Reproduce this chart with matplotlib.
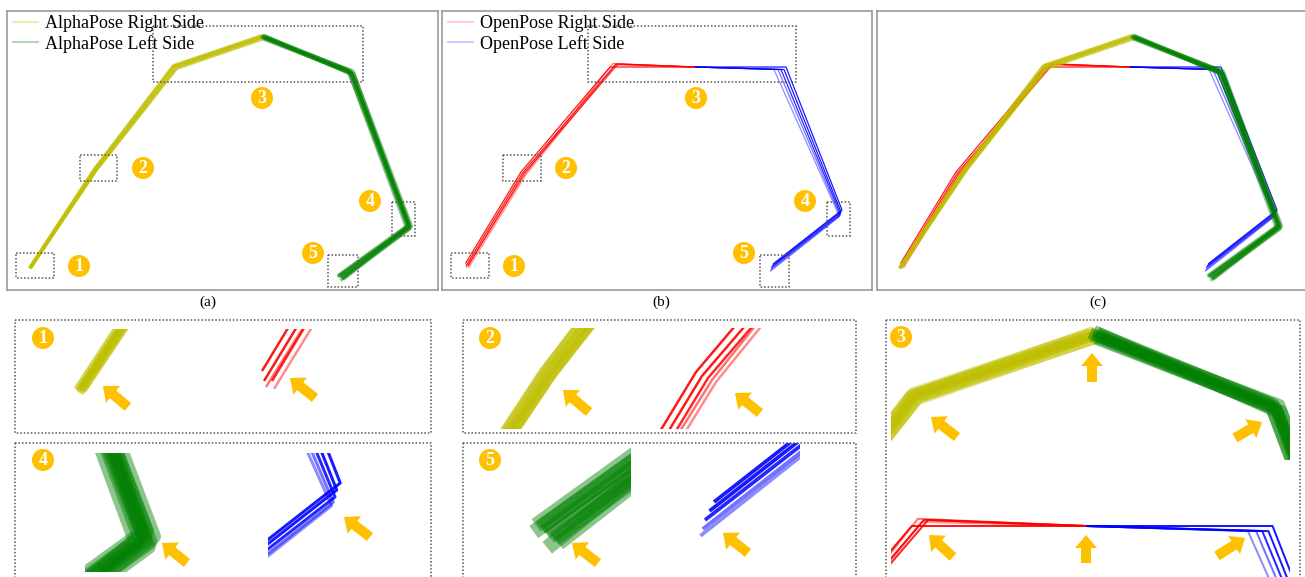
import matplotlib
matplotlib.use('Agg')
import matplotlib.pyplot as plt
from matplotlib.patches import Rectangle, Circle, FancyArrow
from matplotlib.lines import Line2D
import numpy as np

# ---------------- data (keypoints in image-pixel units of a 431x279 frame) -------------
# joint order: R wrist, R elbow, R shoulder, neck, L shoulder, L elbow, L wrist
joint_names = ["R wrist", "R elbow", "R shoulder", "neck", "L shoulder", "L elbow", "L wrist"]

alpha_base_x = [23, 88, 168, 256, 344, 402, 333]
alpha_base_y = [257, 159, 56, 26, 61, 216, 266]
# per-frame deviations of AlphaPose keypoints (8 frames x 7 joints)
alpha_dx = [
    [0.0, 0.0, 0.0, 0.0, 0.0, 0.0, 0.0],
    [0.5, 1.0, 1.5, -1.5, 1.0, 1.5, 1.0],
    [-0.5, -1.0, -1.5, 1.5, -1.0, -1.5, -1.0],
    [0.3, 0.5, 1.0, 2.5, 2.0, 1.0, 2.0],
    [-0.3, -0.5, -1.0, -2.5, -2.0, -1.0, -2.0],
    [0.8, 1.5, 2.5, 0.5, 3.0, 2.5, 3.0],
    [-0.8, -1.5, -2.5, -0.5, -3.0, -2.5, -2.5],
    [0.0, 0.3, 0.5, 1.0, 1.5, 0.5, 0.5],
]
alpha_dy = [
    [0.0, 0.0, 0.0, 0.0, 0.0, 0.0, 0.0],
    [0.3, 0.5, 1.0, 0.5, 1.5, 0.5, 1.0],
    [-0.3, -0.5, -1.0, -0.5, -1.5, -0.5, -1.0],
    [-0.5, 1.0, 2.0, 1.0, -1.0, 2.0, 1.5],
    [0.5, -1.0, -2.0, -1.0, 1.0, -2.0, -1.5],
    [0.0, 0.0, 0.5, 2.0, 2.0, -1.0, 2.5],
    [0.0, 0.0, -0.5, -2.0, -2.0, 1.0, 0.0],
    [0.8, 1.5, -1.5, -1.5, 3.0, -2.5, 3.5],
]

# OpenPose keypoints per frame (5 frames x 7 joints)
open_x = [
    [23.5, 79.0, 168.0, 253.0, 344.0, 400.0, 331.0],
    [24.0, 80.5, 174.0, 253.0, 342.0, 399.0, 330.0],
    [26.0, 82.0, 176.0, 253.0, 339.0, 398.5, 329.0],
    [24.5, 83.0, 171.0, 253.0, 336.0, 398.0, 328.5],
    [26.5, 84.0, 173.0, 253.0, 332.0, 397.5, 328.0],
]
open_y = [
    [252.5, 161.0, 56.0, 56.0, 56.0, 199.0, 253.0],
    [255.0, 162.0, 53.0, 56.0, 58.5, 201.0, 255.0],
    [255.0, 162.5, 53.0, 56.0, 58.5, 203.0, 257.0],
    [256.5, 163.0, 52.5, 56.0, 58.5, 204.5, 259.0],
    [257.0, 163.5, 54.0, 56.0, 58.5, 205.5, 260.5],
]
open_frame_alpha = [0.9, 0.9, 0.85, 0.55, 0.45]

legend_alpha = ["AlphaPose Right Side", "AlphaPose Left Side"]
legend_open = ["OpenPose Right Side", "OpenPose Left Side"]
captions = ["(a)", "(b)", "(c)"]

C_Y, C_G, C_R, C_B = "#BFBF00", "#008000", "#FF0000", "#0000FF"
ORANGE = "#FFC000"

# ---------------- figure ----------------
W, H = 1305, 577
plt.rcParams['font.family'] = ['Liberation Serif', 'DejaVu Serif']
fig = plt.figure(figsize=(W / 100, H / 100), dpi=100)


def rect_px(l, t, r, b):
    return [l / W, 1 - b / H, (r - l) / W, (b - t) / H]


alpha_frames = [(np.array(alpha_base_x) + np.array(dx), np.array(alpha_base_y) + np.array(dy))
                for dx, dy in zip(alpha_dx, alpha_dy)]
open_frames = [(np.array(x), np.array(y)) for x, y in zip(open_x, open_y)]

A_ALPHA = 0.45


def draw_alpha(ax, lw):
    for xs, ys in alpha_frames:
        ax.plot(xs[0:4], ys[0:4], color=C_Y, alpha=A_ALPHA, lw=lw, solid_capstyle='butt')
    for xs, ys in alpha_frames:
        ax.plot(xs[3:7], ys[3:7], color=C_G, alpha=A_ALPHA, lw=lw * 1.15, solid_capstyle='butt')


def draw_open(ax, lw):
    for (xs, ys), a in zip(open_frames, open_frame_alpha):
        ax.plot(xs[0:4], ys[0:4], color=C_R, alpha=a, lw=lw, solid_capstyle='butt')
        ax.plot(xs[3:7], ys[3:7], color=C_B, alpha=a, lw=lw, solid_capstyle='butt')


def style_panel(ax, width):
    ax.set_xlim(0, width)
    ax.set_ylim(279, 0)
    ax.set_xticks([])
    ax.set_yticks([])
    for s in ax.spines.values():
        s.set_color('#999999')
        s.set_linewidth(1.2)


LW_A, LW_O = 2.1, 0.9

axA = fig.add_axes(rect_px(7, 11, 438, 290))
style_panel(axA, 431)
draw_alpha(axA, LW_A)
hA = [Line2D([], [], color=C_Y, alpha=0.3, lw=1.5), Line2D([], [], color=C_G, alpha=0.3, lw=1.5)]
axA.legend(hA, legend_alpha, loc='upper left', bbox_to_anchor=(6 / 431, 1.0 - 4 / 279), frameon=False,
           fontsize=13, borderaxespad=0, borderpad=0, handlelength=1.4, handletextpad=0.35,
           labelspacing=0.15)

axB = fig.add_axes(rect_px(442, 11, 872, 290))
style_panel(axB, 430)
draw_open(axB, LW_O)
hB = [Line2D([], [], color=C_R, alpha=0.2, lw=1.5), Line2D([], [], color=C_B, alpha=0.2, lw=1.5)]
axB.legend(hB, legend_open, loc='upper left', bbox_to_anchor=(6 / 430, 1.0 - 4 / 279), frameon=False,
           fontsize=13, borderaxespad=0, borderpad=0, handlelength=1.4, handletextpad=0.4,
           labelspacing=0.15)

axC = fig.add_axes(rect_px(877, 11, 1307, 290))
style_panel(axC, 430)
draw_open(axC, LW_O)
draw_alpha(axC, LW_A)

for txt, x in zip(captions, [208, 661, 1098]):
    fig.text(x / W, 1 - 302 / H, txt, ha='center', va='center', fontsize=11)

# ---------------- zoomed insets ----------------
# (dataset, rect px (l,t,r,b), anchor data (x,y), anchor px (x,y), scale, lw factor)
ob = open_frames[2]
insets = [
    ('a', (24, 329, 200, 430), (alpha_base_x[0], alpha_base_y[0]), (80, 390), 4.0, 2.6),
    ('o', (190, 329, 360, 430), (ob[0][0], ob[1][0]), (272, 381), 4.0, 2.0),
    ('a', (480, 328, 620, 429), (alpha_base_x[1], alpha_base_y[1]), (548, 373), 4.0, 3.0),
    ('o', (650, 328, 800, 429), (ob[0][1], ob[1][1]), (708, 378), 4.0, 2.0),
    ('a', (85, 453, 180, 572), (alpha_base_x[5], alpha_base_y[5]), (145, 540), 3.5, 4.3),
    ('o', (268, 453, 380, 572), (ob[0][5], ob[1][5]), (335, 497), 3.5, 2.4),
    ('a', (500, 445, 631, 577), (alpha_base_x[6], alpha_base_y[6]), (545, 532), 4.5, 4.5),
    ('o', (660, 443, 800, 577), (ob[0][6], ob[1][6]), (705, 520), 4.5, 3.0),
    ('a', (891, 325, 1290, 460), (alpha_base_x[3], alpha_base_y[3]), (1095, 335), 2.05, 3.4),
    ('o', (891, 470, 1290, 577), (ob[0][3], ob[1][3]), (1086, 526), 2.05, 1.6),
]
for ds, (l, t, r, b), (dx0, dy0), (px0, py0), s, k in insets:
    ax_i = fig.add_axes(rect_px(l, t, r, b))
    ax_i.set_xlim(dx0 + (l - px0) / s, dx0 + (r - px0) / s)
    ax_i.set_ylim(dy0 + (b - py0) / s, dy0 + (t - py0) / s)
    ax_i.axis('off')
    if ds == 'a':
        draw_alpha(ax_i, LW_A * k)
    else:
        draw_open(ax_i, LW_O * k)

# ---------------- overlay: dotted boxes, badges, arrows ----------------
ov = fig.add_axes([0, 0, 1, 1], zorder=10)
ov.set_xlim(0, W)
ov.set_ylim(H, 0)
ov.axis('off')
ov.patch.set_alpha(0)

dotted = [
    (16, 253, 54, 278), (80, 155, 117, 181), (153, 26, 363, 82), (392, 202, 415, 236), (328, 255, 358, 287),
    (451, 253, 489, 278), (503, 155, 541, 181), (588, 26, 796, 82), (827, 202, 850, 236), (760, 255, 789, 287),
    (15, 320, 431, 433), (15, 443, 431, 600), (463, 320, 856, 433), (463, 443, 856, 600), (886, 320, 1300, 600),
]
for l, t, r, b in dotted:
    ov.add_patch(Rectangle((l, t), r - l, b - t, fill=False, ec='#555555', lw=1.1,
                           ls=(0, (1, 1.3))))

badges = [
    ('1', 79, 266), ('2', 143, 168), ('3', 262, 98), ('4', 370, 201), ('5', 313, 253),
    ('1', 514, 266), ('2', 566, 168), ('3', 696, 98), ('4', 805, 201), ('5', 744, 253),
    ('1', 43, 338), ('4', 43, 460), ('2', 490, 338), ('5', 490, 460), ('3', 901, 337),
]
for n, x, y in badges:
    ov.add_patch(Circle((x, y), 11, color=ORANGE, lw=0))
    ov.text(x, y + 0.5, n, color='white', fontsize=13, fontweight='bold', ha='center', va='center')

arrows = [
    (128, 407, 103, 386), (315, 398, 290, 378),
    (187, 563, 162, 543), (370, 537, 344, 517),
    (589, 412, 563, 390), (760, 413, 735, 393),
    (598, 563, 572, 543), (748, 553, 723, 533),
    (1092, 382, 1092, 353), (957, 437, 931, 417), (1235, 438, 1262, 422),
    (953, 557, 929, 535), (1086, 563, 1086, 535), (1217, 556, 1245, 538),
]
for x0, y0, x1, y1 in arrows:
    ov.add_patch(FancyArrow(x0, y0, x1 - x0, y1 - y0, width=10, head_width=22, head_length=13,
                            length_includes_head=True, color=ORANGE, lw=0))

fig.savefig('out.png', dpi=100)
